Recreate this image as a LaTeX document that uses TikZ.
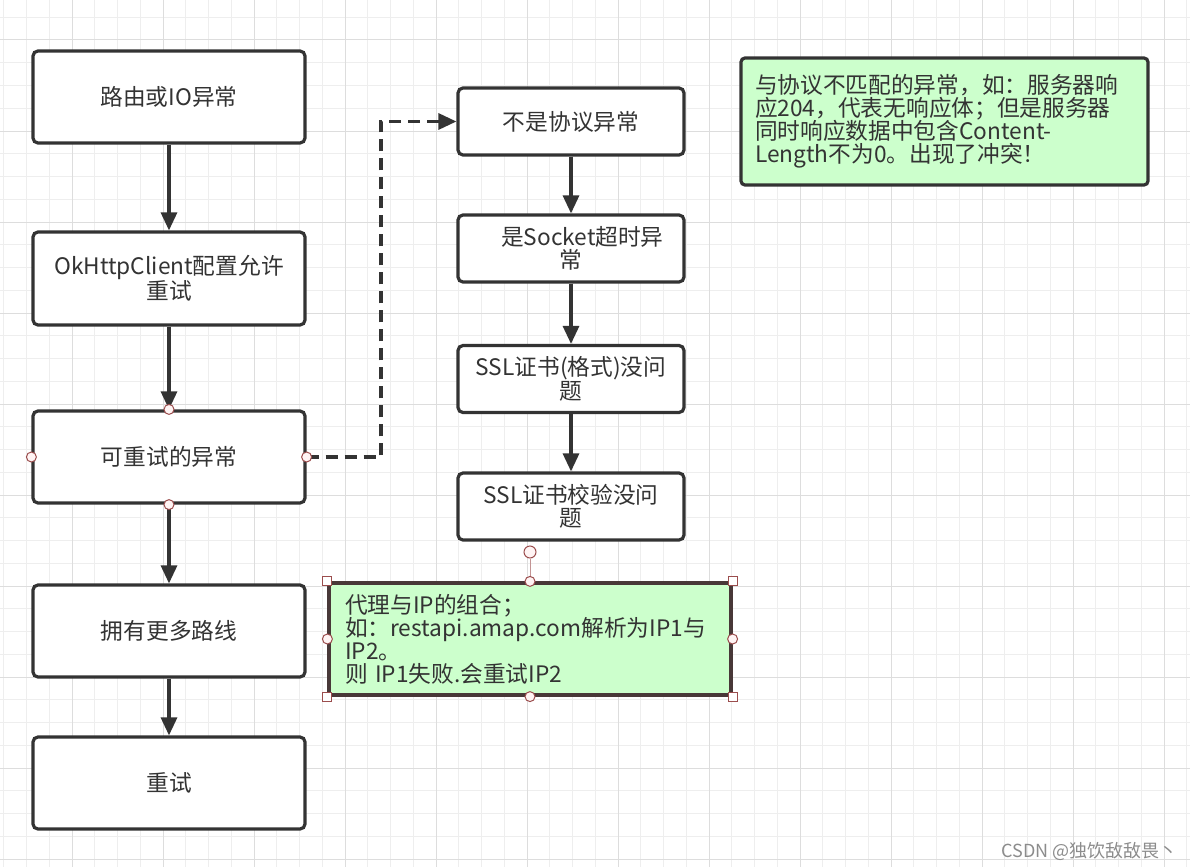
\documentclass[tikz,border=0pt]{standalone}
\usepackage{fontspec}
\setmainfont{Noto Sans CJK SC}
\usetikzlibrary{arrows.meta}
\definecolor{ink}{HTML}{333333}
\definecolor{gridminor}{HTML}{EEEEEE}
\definecolor{gridmajor}{HTML}{DDDDDD}
\definecolor{notefill}{HTML}{CCFFCC}
\definecolor{selred}{HTML}{9B4D4D}
\definecolor{selfill}{HTML}{FFF4F4}
\tikzset{
  stepbox/.style={draw=ink, line width=3.2pt, rounded corners=5pt, fill=white,
    align=center, inner sep=0pt, text=ink, font=\fontsize{22.7}{22.5}\selectfont},
  leftbox/.style={stepbox, minimum width=272pt, minimum height=92pt},
  rightbox/.style={stepbox, minimum width=226pt, minimum height=67pt},
  notebox/.style={draw=ink, line width=3.2pt, rounded corners=4pt, fill=notefill,
    align=left, inner ysep=0pt, text=ink, font=\fontsize{22.7}{23}\selectfont},
  arr/.style={draw=ink, line width=3.2pt, -{Triangle[length=18pt,width=16pt]}},
  dasharr/.style={arr, dash pattern=on 12pt off 7pt},
  conn/.style={circle, draw=selred, fill=selfill, line width=1pt, minimum size=10pt, inner sep=0pt},
  sq/.style={rectangle, draw=selred, fill=white, line width=1pt, minimum size=9pt, inner sep=0pt},
}
\begin{document}
\begin{tikzpicture}[x=1pt,y=-1pt]
\useasboundingbox (0,0) rectangle (1190,867);
\fill[white] (0,0) rectangle (1190,867);
% grid
\foreach \k in {0,...,52} {\draw[gridminor, line width=1pt] ({3.75+22.75*\k},0) -- ({3.75+22.75*\k},867);}
\foreach \k in {0,...,38} {\draw[gridminor, line width=1pt] (0,{17.25+22.75*\k}) -- (1190,{17.25+22.75*\k});}
\foreach \k in {0,...,12} {\draw[gridmajor, line width=1pt] ({72+91*\k},0) -- ({72+91*\k},867);}
\foreach \k in {0,...,9} {\draw[gridmajor, line width=1pt] (0,{40+91*\k}) -- (1190,{40+91*\k});}

% left column
\node[leftbox] (b1) at (169,97) {路由或IO异常};
\node[leftbox, minimum height=93pt] (b2) at (169,278.5) {OkHttpClient配置允许\\重试};
\node[leftbox] (b3) at (169,457) {可重试的异常};
\node[leftbox] (b4) at (169,631) {拥有更多路线};
\node[leftbox] (b5) at (169,783) {重试};

% right column
\node[rightbox] (r1) at (571,121.5) {不是协议异常};
\node[rightbox] (r2) at (571,248.5) {\phantom{不}是Socket超时异\\常};
\node[rightbox] (r3) at (571,379) {SSL证书(格式)没问\\题};
\node[rightbox] (r4) at (571,506.5) {SSL证书校验没问\\题};

% notes
\node[notebox, minimum width=407pt, minimum height=127pt, text width=379pt, inner xsep=14pt] (n1) at (944.5,121.5)
  {与协议不匹配的异常，如：服务器响\\应204，代表无响应体；但是服务器\\同时响应数据中包含Content-\\Length不为0。出现了冲突！};
\node[notebox, draw=ink!80!selred, rounded corners=0pt, minimum width=402pt, minimum height=112pt, text width=370pt, inner xsep=16pt] (n2) at (530,639)
  {代理与IP的组合；\\如：restapi.amap.com解析为IP1与\\IP2。\\则 IP1失败.会重试IP2};

% connectors
\draw[arr] (b1) -- (b2);
\draw[arr] (b2) -- (b3);
\draw[arr] (b3) -- (b4);
\draw[arr] (b4) -- (b5);
\draw[arr] (r1) -- (r2);
\draw[arr] (r2) -- (r3);
\draw[arr] (r3) -- (r4);
\coordinate (bend) at (381,300);
\draw[dasharr] (b3.east) -- (b3.east -| bend) -- (bend |- r1.west) -- (r1.west);

% selection handles
\node[conn] (c3n) at (b3.north) {};
\node[conn] (c3s) at (b3.south) {};
\node[conn] (c3w) at (b3.west) {};
\node[conn] (c3e) at (b3.east) {};
\node[conn, minimum size=12pt] (rot) at (530,552) {};
\draw[selred!60, line width=1pt] (rot) -- (n2.north);
\node[sq] (s1) at (n2.north west) {};
\node[sq] (s2) at (n2.north east) {};
\node[sq] (s3) at (n2.south west) {};
\node[sq] (s4) at (n2.south east) {};
\node[conn] (c2n) at (n2.north) {};
\node[conn] (c2s) at (n2.south) {};
\node[conn] (c2w) at (n2.west) {};
\node[conn] (c2e) at (n2.east) {};

% watermark
\node[anchor=base east, text=black!45, font=\fontsize{18}{20}\selectfont, inner sep=0pt] (wm) at (1178,857) {CSDN @独饮敌敌畏丶};
\end{tikzpicture}
\end{document}
